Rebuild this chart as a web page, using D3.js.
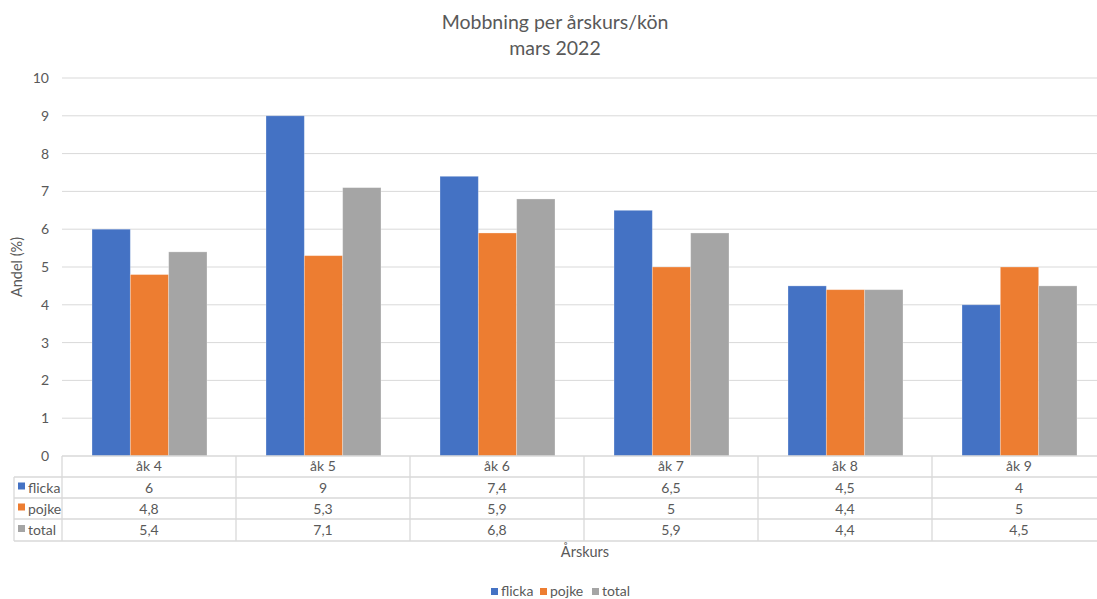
<!DOCTYPE html>
<html><head><meta charset="utf-8">
<script src="https://cdn.jsdelivr.net/npm/d3@7"></script>
<style>body{margin:0;background:#fff;} text{font-family:Lato,"Open Sans",sans-serif;fill:#595959;}</style>
</head><body>
<svg id="c" width="1097" height="599"></svg>
<script>
const categories = ["åk 4","åk 5","åk 6","åk 7","åk 8","åk 9"];
const seriesNames = ["flicka","pojke","total"];
const flicka = [6, 9, 7.4, 6.5, 4.5, 4];
const pojke = [4.8, 5.3, 5.9, 5, 4.4, 5];
const total = [5.4, 7.1, 6.8, 5.9, 4.4, 4.5];
const yTicks = [0,1,2,3,4,5,6,7,8,9,10];
const colors = ["#4472C4","#ED7D31","#A5A5A5"];
const series = [flicka, pojke, total];
const fmt = v => String(v).replace(".", ",");

const svg = d3.select("#c");
const L = 62, R = 1106, T = 78, B = 456;
const x = d3.scaleBand().domain(categories).range([L, R]);
const inner = d3.scaleBand().domain(seriesNames).range([0, 115]);
const y = d3.scaleLinear().domain([0, 10]).range([B, T]);
const FS = 14;

// title
svg.append("text").attr("x", 555).attr("y", 29).attr("text-anchor","middle").attr("font-size", 19.5).text("Mobbning per årskurs/kön");
svg.append("text").attr("x", 555).attr("y", 55).attr("text-anchor","middle").attr("font-size", 19.5).text("mars 2022");

// gridlines
svg.append("g").selectAll("line").data(yTicks.filter(d=>d>0)).join("line")
  .attr("x1", L).attr("x2", R).attr("y1", d=>y(d)).attr("y2", d=>y(d))
  .attr("stroke", "#D9D9D9").attr("stroke-width", 1);

// y axis labels
const yAxis = d3.axisLeft(y).tickValues(yTicks).tickSize(0).tickPadding(0).tickFormat(d=>d);
const ya = svg.append("g").attr("transform", `translate(${L-13},0)`).call(yAxis);
ya.select(".domain").remove();
ya.selectAll("text").attr("font-size", FS).attr("fill", "#595959").style("font-family", 'Lato,"Open Sans",sans-serif');

svg.append("text").attr("transform", "translate(22,267) rotate(-90)").attr("text-anchor","middle").attr("font-size", 14.5).text("Andel (%)");

// bars
series.forEach((s, si) => {
  svg.append("g").selectAll("rect").data(s).join("rect")
    .attr("x", (d,i)=> x(categories[i]) + 30 + inner(seriesNames[si]))
    .attr("width", inner.bandwidth())
    .attr("y", d=>y(d)).attr("height", d=>B - y(d))
    .attr("fill", colors[si]).attr("stroke", "#fff").attr("stroke-opacity", 0.35).attr("stroke-width", 0.8);
});

// table
const rowH = [456, 477, 498, 519, 541];
const tg = svg.append("g");
const lineC = "#D9D9D9";
tg.append("line").attr("x1", L).attr("x2", R).attr("y1", B).attr("y2", B).attr("stroke", lineC).attr("stroke-width", 1.3);
[477, 498, 519, 541].forEach(yy => tg.append("line").attr("x1", 14).attr("x2", R).attr("y1", yy).attr("y2", yy).attr("stroke", lineC).attr("stroke-width", 1.3));
tg.append("line").attr("x1", 14).attr("x2", 14).attr("y1", 477).attr("y2", 541).attr("stroke", lineC).attr("stroke-width", 1.3);
const vx = categories.map(c=>x(c)).concat([R]);
vx.forEach(xx => tg.append("line").attr("x1", xx).attr("x2", xx).attr("y1", B).attr("y2", 541).attr("stroke", lineC).attr("stroke-width", 1.3));
tg.selectAll("text.h").data(categories).join("text").attr("class","h")
  .attr("x", d=>x(d)+x.bandwidth()/2).attr("y", 471).attr("text-anchor","middle").attr("font-size", FS).text(d=>d);
series.forEach((s, si) => {
  const cy = (rowH[si+1] + rowH[si+2]) / 2 + 5;
  tg.append("rect").attr("x", 18).attr("y", cy-10).attr("width", 7).attr("height", 7).attr("fill", colors[si]);
  tg.append("text").attr("x", 28).attr("y", cy).attr("font-size", FS).text(seriesNames[si]);
  tg.selectAll(null).data(s).join("text")
    .attr("x", (d,i)=>x(categories[i])+x.bandwidth()/2).attr("y", cy).attr("text-anchor","middle").attr("font-size", FS).text(d=>fmt(d));
});

svg.append("text").attr("x", 585).attr("y", 557).attr("text-anchor","middle").attr("font-size", 14.5).text("Årskurs");

// legend
const leg = [{n:"flicka", x:491},{n:"pojke", x:540},{n:"total", x:592}];
leg.forEach((l,i) => {
  svg.append("rect").attr("x", l.x).attr("y", 588).attr("width", 7).attr("height", 7).attr("fill", colors[i]);
  svg.append("text").attr("x", l.x+10).attr("y", 595.5).attr("font-size", FS).text(l.n);
});
</script>
</body></html>
